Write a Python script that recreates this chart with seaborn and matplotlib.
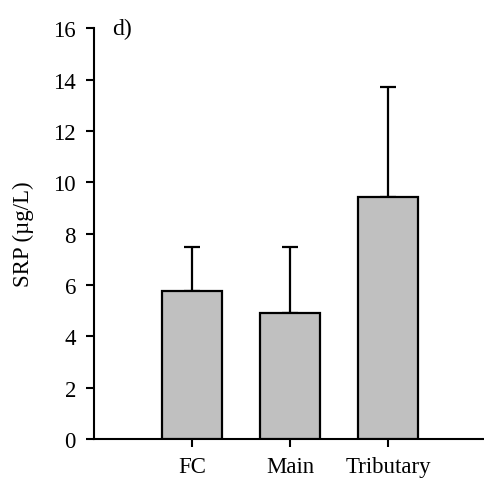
import matplotlib
matplotlib.use("Agg")
import matplotlib.pyplot as plt
import seaborn as sns
import pandas as pd
import numpy as np

# Soluble reactive phosphorus by site type
sites = ["FC", "Main", "Tributary"]
srp_mean = [5.78, 4.92, 9.44]
srp_sd = [1.71, 2.57, 4.27]
y_ticks = [0, 2, 4, 6, 8, 10, 12, 14, 16]

sns.set_theme(style="ticks")
plt.rcParams["font.family"] = ["Liberation Serif", "DejaVu Serif"]
plt.rcParams["text.color"] = "black"
plt.rcParams["axes.labelcolor"] = "black"

df = pd.DataFrame({"site": sites, "srp": srp_mean})

fig = plt.figure(figsize=(4.84, 4.81), dpi=100)
ax = fig.add_axes([94 / 484, 1 - 440 / 481, 390 / 484, (440 - 29.3) / 481])

sns.barplot(data=df, x="site", y="srp", order=sites, color="#c0c0c0",
            saturation=1, width=0.61, edgecolor="black", linewidth=1.6,
            errorbar=None, ax=ax, zorder=3)

# upper-only error bars (mean + SD)
ax.errorbar(np.arange(len(sites)), srp_mean,
            yerr=[np.zeros(len(sites)), srp_sd],
            fmt="none", ecolor="black", elinewidth=1.6, capsize=6,
            capthick=1.6, zorder=2)

ax.set_xlim(-1, 2.98)
ax.set_ylim(0, 16)
ax.set_yticks(y_ticks)
ax.set_xlabel("")
ax.set_ylabel("SRP (\u00b5g/L)", fontsize=16.5, labelpad=14, color="black")

for side in ["top", "right"]:
    ax.spines[side].set_visible(False)
for side in ["left", "bottom"]:
    ax.spines[side].set_linewidth(1.5)
    ax.spines[side].set_color("black")

ax.tick_params(axis="both", length=6, width=1.5, color="black",
               labelsize=16.5, labelcolor="black")
ax.tick_params(axis="y", pad=7)
ax.tick_params(axis="x", pad=6)

fig.text(112 / 484, 1 - 29 / 481, "d)", fontsize=17, ha="left", va="center",
         color="black")

fig.savefig("out.png", dpi=100)
